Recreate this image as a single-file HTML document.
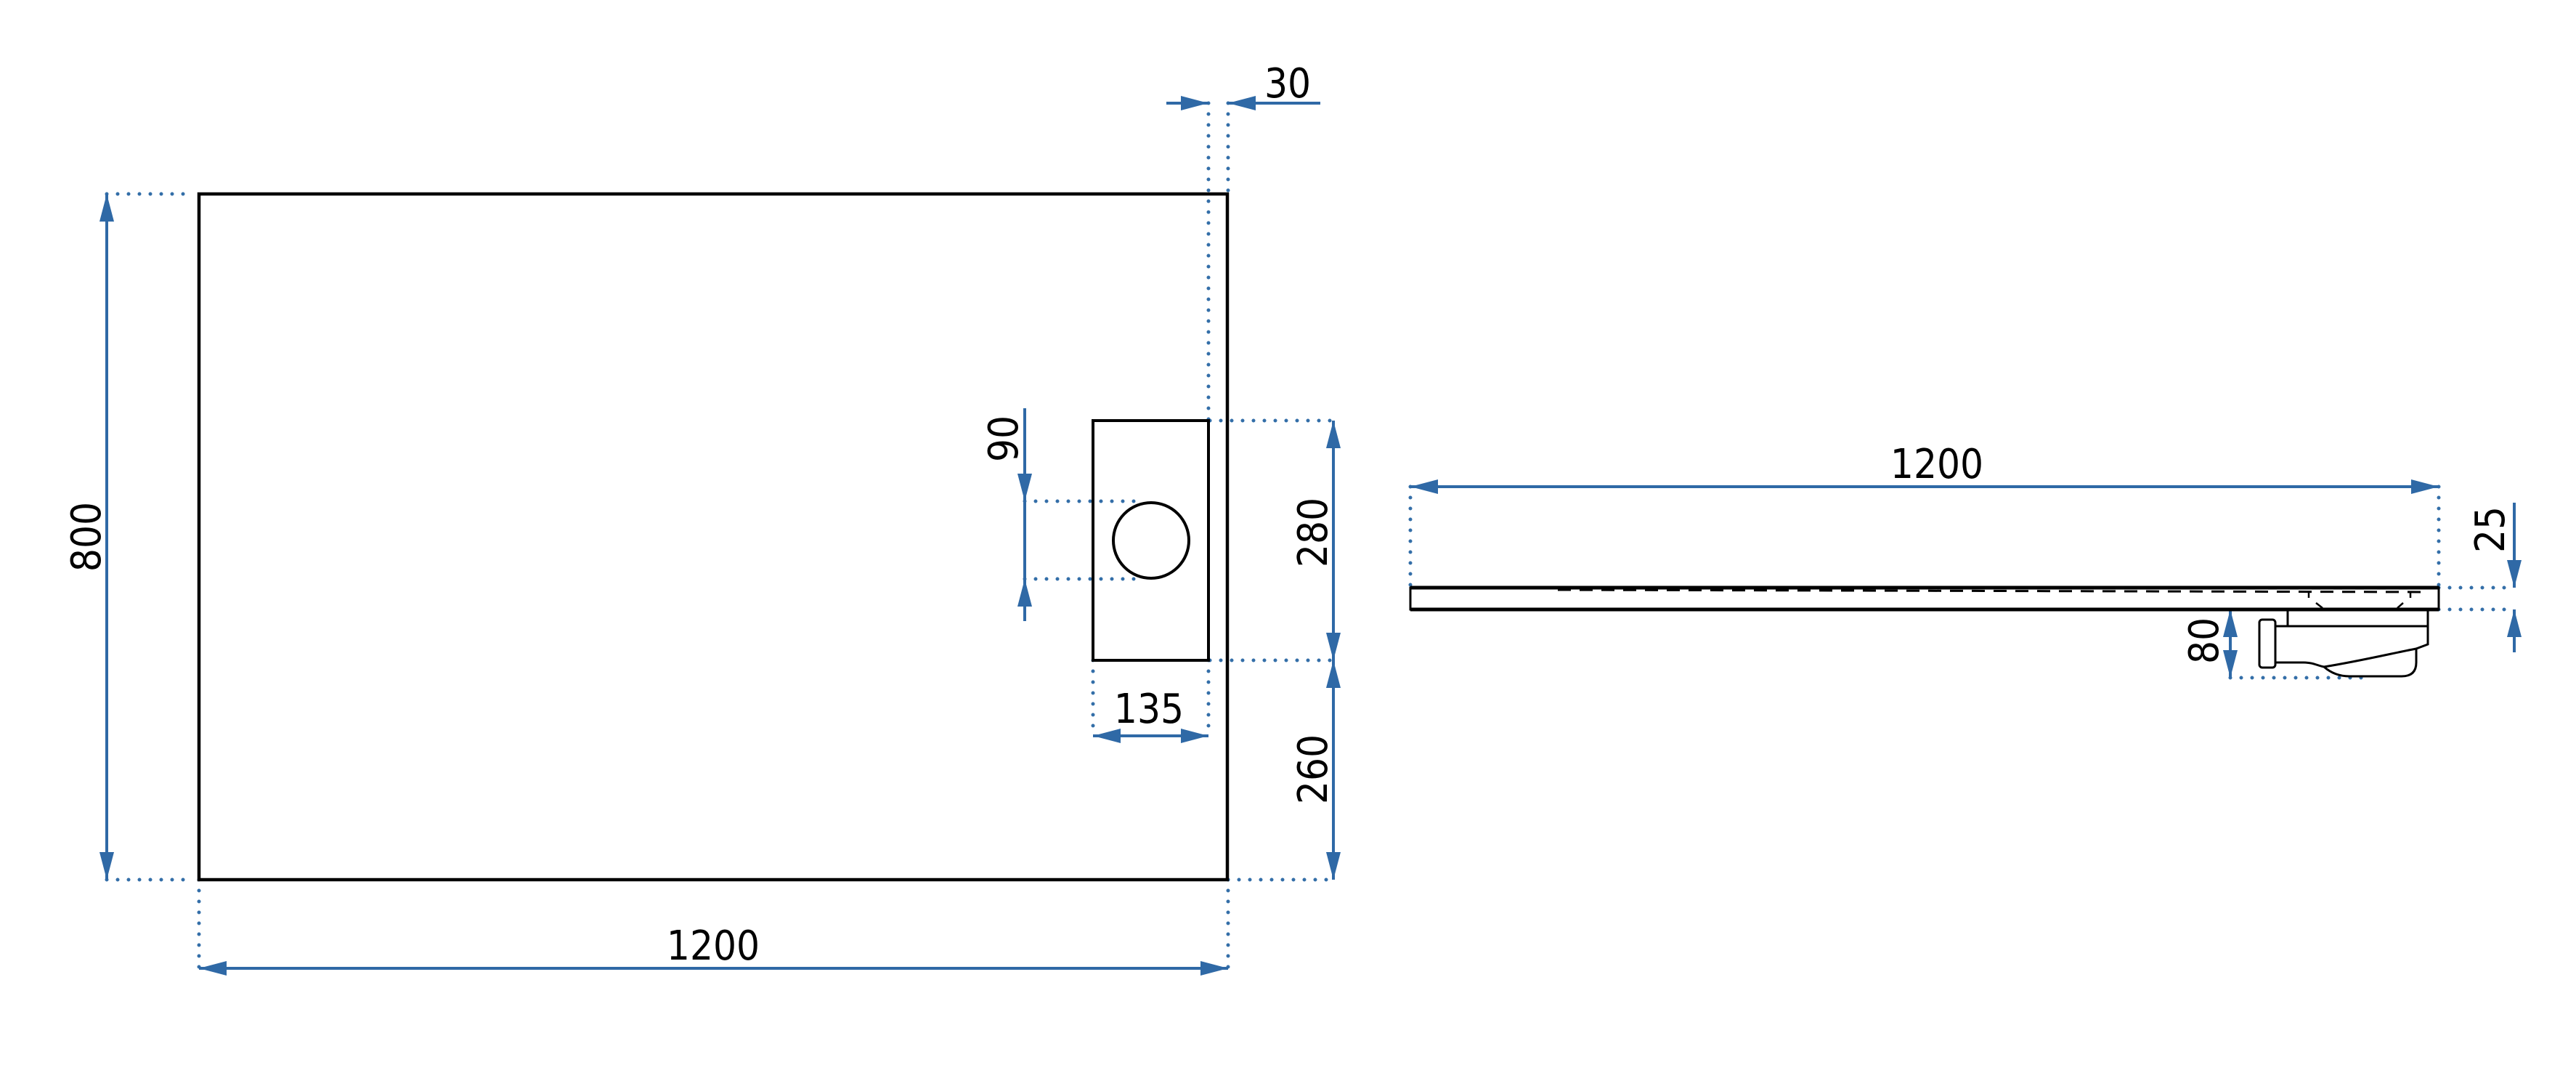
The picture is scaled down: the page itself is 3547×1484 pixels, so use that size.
<!DOCTYPE html>
<html><head><meta charset="utf-8"><style>
html,body{margin:0;padding:0;background:#fff;}
svg{display:block;}
text{font-family:"DejaVu Sans Condensed","DejaVu Sans","Liberation Sans",sans-serif;font-size:56px;fill:#000;}
</style></head><body>
<svg width="3547" height="1484" viewBox="0 0 3547 1484" xmlns="http://www.w3.org/2000/svg">
<defs>
<marker id="a" viewBox="0 0 38 20" refX="38" refY="10" markerWidth="38" markerHeight="20" markerUnits="userSpaceOnUse" orient="auto"><path d="M0,0 L38,10 L0,20 Z" fill="#2f69a6"/></marker>
</defs>
<g stroke="#336ea8" stroke-width="5" stroke-linecap="round" stroke-dasharray="0 15" fill="none">
<line x1="147" y1="267" x2="267" y2="267"/>
<line x1="147" y1="1211" x2="267" y2="1211"/>
<line x1="1664" y1="142" x2="1664" y2="578"/>
<line x1="1691" y1="142" x2="1691" y2="267"/>
<line x1="1666" y1="579" x2="1836" y2="579"/>
<line x1="1666" y1="909" x2="1836" y2="909"/>
<line x1="1691" y1="1211" x2="1836" y2="1211"/>
<line x1="1411" y1="690" x2="1576" y2="690"/>
<line x1="1411" y1="797" x2="1576" y2="797"/>
<line x1="1505" y1="909" x2="1505" y2="1013"/>
<line x1="1664" y1="909" x2="1664" y2="1013"/>
<line x1="274" y1="1211" x2="274" y2="1333"/>
<line x1="1691" y1="1211" x2="1691" y2="1333"/>
<line x1="1942" y1="670" x2="1942" y2="807"/>
<line x1="3358" y1="670" x2="3358" y2="807"/>
<line x1="3358" y1="809" x2="3462" y2="809"/>
<line x1="3358" y1="839" x2="3462" y2="839"/>
<line x1="3071" y1="933" x2="3265" y2="933"/>
</g>
<g stroke="#2f69a6" stroke-width="4" fill="none">
<line x1="147" y1="700" x2="147" y2="1211" marker-end="url(#a)"/>
<line x1="147" y1="700" x2="147" y2="267" marker-end="url(#a)"/>
<line x1="1000" y1="1333" x2="1691" y2="1333" marker-end="url(#a)"/>
<line x1="1000" y1="1333" x2="274" y2="1333" marker-end="url(#a)"/>
<line x1="1606" y1="142" x2="1664" y2="142" marker-end="url(#a)"/>
<line x1="1818" y1="142" x2="1691" y2="142" marker-end="url(#a)"/>
<line x1="1411" y1="562" x2="1411" y2="690" marker-end="url(#a)"/>
<line x1="1411" y1="855" x2="1411" y2="797" marker-end="url(#a)"/>
<line x1="1411" y1="690" x2="1411" y2="797"/>
<line x1="1836" y1="744" x2="1836" y2="579" marker-end="url(#a)"/>
<line x1="1836" y1="744" x2="1836" y2="909" marker-end="url(#a)"/>
<line x1="1836" y1="1060" x2="1836" y2="909" marker-end="url(#a)"/>
<line x1="1836" y1="1060" x2="1836" y2="1211" marker-end="url(#a)"/>
<line x1="1584" y1="1013" x2="1505" y2="1013" marker-end="url(#a)"/>
<line x1="1584" y1="1013" x2="1664" y2="1013" marker-end="url(#a)"/>
<line x1="2650" y1="670" x2="1942" y2="670" marker-end="url(#a)"/>
<line x1="2650" y1="670" x2="3358" y2="670" marker-end="url(#a)"/>
<line x1="3462" y1="692" x2="3462" y2="809" marker-end="url(#a)"/>
<line x1="3462" y1="898" x2="3462" y2="839" marker-end="url(#a)"/>
<line x1="3071" y1="886" x2="3071" y2="839" marker-end="url(#a)"/>
<line x1="3071" y1="886" x2="3071" y2="933" marker-end="url(#a)"/>
</g>
<g stroke="#000" fill="none">
<rect x="274" y="267" width="1416" height="944" stroke-width="4.5"/>
<rect x="1505" y="579" width="159" height="330" stroke-width="4"/>
<circle cx="1585" cy="744" r="52" stroke-width="4"/>
<rect x="1942" y="809" width="1416" height="30" stroke-width="3"/>
<line x1="1942" y1="809" x2="3358" y2="809" stroke-width="5"/>
<line x1="1942" y1="839" x2="3358" y2="839" stroke-width="5"/>
<line x1="2145" y1="812" x2="3340" y2="815" stroke-width="3" stroke-dasharray="18 12"/>
<path d="M3179,815 v8 M3319,815 v8 M3189,830 L3198,837 M3309,830 L3301,837" stroke-width="2.5"/>
<path d="M3150,840 V862 M3343,840 V887 L3327,893 M3133,862 H3343" stroke-width="3"/>
<rect x="3111" y="853" width="22" height="66" rx="4" stroke-width="3"/>
<path d="M3133,912 H3172 C3185,912 3190,916 3200,918 C3250,910 3300,898 3327,893 V912 C3327,925 3320,931 3307,931 H3235 C3220,931 3208,925 3200,918" stroke-width="3"/>
</g>
<g>
<text transform="translate(118,739) rotate(-90)" text-anchor="middle" y="20">800</text>
<text x="1773" y="134" text-anchor="middle">30</text>
<text transform="translate(1381,604) rotate(-90)" text-anchor="middle" y="20">90</text>
<text transform="translate(1807,733) rotate(-90)" text-anchor="middle" y="20">280</text>
<text transform="translate(1807,1059) rotate(-90)" text-anchor="middle" y="20">260</text>
<text x="1582" y="995" text-anchor="middle">135</text>
<text x="982" y="1321" text-anchor="middle">1200</text>
<text x="2667" y="658" text-anchor="middle">1200</text>
<text transform="translate(3428,729) rotate(-90)" text-anchor="middle" y="20">25</text>
<text transform="translate(3034,882) rotate(-90)" text-anchor="middle" y="20">80</text>
</g>
</svg>
</body></html>
